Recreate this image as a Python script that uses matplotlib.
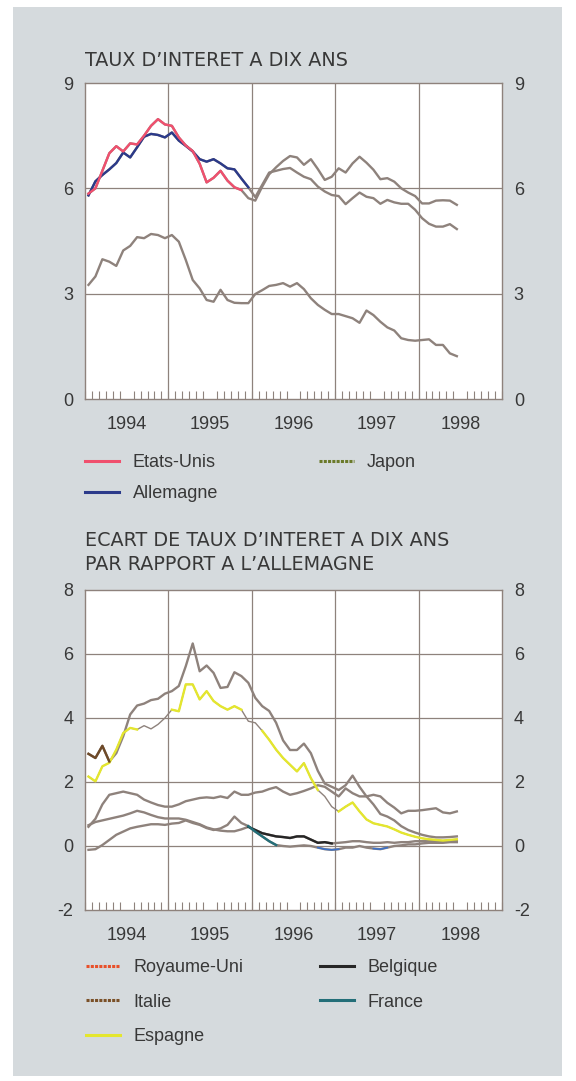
import numpy as np
import matplotlib
matplotlib.use("Agg")
import matplotlib.pyplot as plt
from matplotlib.lines import Line2D
from matplotlib.patches import Rectangle

# monthly observations, Jan 1994 .. Jun 1998
n_months = 54
years = [1994, 1995, 1996, 1997, 1998]

# --- taux d'interet a dix ans (%)
etats_unis = [5.85, 6.0, 6.5, 7.0, 7.2, 7.05, 7.28, 7.25, 7.5, 7.78, 7.97, 7.82,
              7.78, 7.45, 7.22, 7.06, 6.7, 6.17, 6.3, 6.5, 6.22, 6.03, 5.95, 5.72,
              5.65, 6.05, 6.4, 6.6, 6.78, 6.92, 6.88, 6.67, 6.83, 6.55, 6.24, 6.33,
              6.57, 6.45, 6.71, 6.9, 6.73, 6.53, 6.26, 6.29, 6.19, 6.0, 5.88, 5.78,
              5.57, 5.57, 5.65, 5.66, 5.65, 5.53]
allemagne = [5.8, 6.2, 6.38, 6.54, 6.72, 7.02, 6.88, 7.17, 7.47, 7.55, 7.52, 7.45,
             7.59, 7.36, 7.21, 7.05, 6.83, 6.76, 6.83, 6.71, 6.57, 6.54, 6.28, 6.03,
             5.75, 6.1, 6.45, 6.5, 6.55, 6.58, 6.45, 6.33, 6.26, 6.05, 5.91, 5.81,
             5.78, 5.55, 5.72, 5.88, 5.76, 5.72, 5.56, 5.67, 5.6, 5.56, 5.56, 5.39,
             5.15, 4.99, 4.91, 4.91, 4.98, 4.84]
japon = [3.25, 3.49, 3.98, 3.91, 3.79, 4.23, 4.36, 4.61, 4.58, 4.70, 4.67, 4.58,
         4.67, 4.48, 3.96, 3.39, 3.15, 2.82, 2.77, 3.11, 2.82, 2.74, 2.73, 2.73,
         2.99, 3.1, 3.22, 3.25, 3.3, 3.2, 3.3, 3.13, 2.87, 2.68, 2.54, 2.42,
         2.42, 2.36, 2.3, 2.17, 2.52, 2.39, 2.2, 2.04, 1.95, 1.73, 1.68, 1.66,
         1.68, 1.7, 1.54, 1.54, 1.3, 1.22]

# --- ecart par rapport a l'Allemagne (points)
royaume_uni = [0.6, 0.85, 1.3, 1.6, 1.65, 1.7, 1.65, 1.6, 1.45, 1.36, 1.28, 1.23,
               1.23, 1.3, 1.4, 1.45, 1.5, 1.52, 1.5, 1.55, 1.5, 1.7, 1.6, 1.6,
               1.67, 1.7, 1.78, 1.84, 1.7, 1.6, 1.65, 1.72, 1.8, 1.9, 1.85, 1.7,
               1.55, 1.8, 1.65, 1.55, 1.55, 1.6, 1.55, 1.35, 1.2, 1.02, 1.1, 1.1,
               1.12, 1.15, 1.18, 1.05, 1.02, 1.08]
italie = [2.88, 2.75, 3.13, 2.64, 2.9, 3.43, 4.11, 4.39, 4.45, 4.56, 4.6, 4.76,
          4.84, 5.0, 5.62, 6.33, 5.46, 5.64, 5.41, 4.94, 4.97, 5.43, 5.31, 5.1,
          4.63, 4.37, 4.22, 3.85, 3.3, 3.0, 3.0, 3.2, 2.9, 2.35, 1.95, 1.85,
          1.75, 1.9, 2.2, 1.85, 1.55, 1.3, 1.0, 0.92, 0.8, 0.62, 0.5, 0.42,
          0.35, 0.3, 0.27, 0.27, 0.28, 0.3]
espagne = [2.17, 2.02, 2.49, 2.6, 3.01, 3.53, 3.69, 3.64, 3.76, 3.66, 3.8, 4.0,
           4.26, 4.21, 5.05, 5.05, 4.58, 4.84, 4.53, 4.37, 4.26, 4.37, 4.26, 3.9,
           3.85, 3.6, 3.32, 3.01, 2.75, 2.54, 2.33, 2.59, 2.12, 1.75, 1.55, 1.23,
           1.08, 1.23, 1.36, 1.08, 0.83, 0.71, 0.66, 0.61, 0.52, 0.42, 0.35, 0.29,
           0.24, 0.21, 0.19, 0.17, 0.19, 0.21]
belgique = [0.65, 0.75, 0.8, 0.85, 0.9, 0.95, 1.02, 1.1, 1.05, 0.97, 0.9, 0.86,
            0.86, 0.86, 0.82, 0.75, 0.68, 0.58, 0.52, 0.48, 0.46, 0.46, 0.52, 0.6,
            0.5, 0.4, 0.35, 0.3, 0.28, 0.25, 0.3, 0.3, 0.2, 0.1, 0.12, 0.08,
            0.1, 0.12, 0.15, 0.15, 0.12, 0.1, 0.1, 0.12, 0.1, 0.12, 0.12, 0.15,
            0.15, 0.15, 0.15, 0.15, 0.15, 0.15]
france = [-0.12, -0.1, 0.03, 0.19, 0.35, 0.45, 0.55, 0.6, 0.64, 0.68, 0.68, 0.66,
          0.7, 0.72, 0.8, 0.72, 0.66, 0.56, 0.5, 0.55, 0.66, 0.92, 0.72, 0.62,
          0.45, 0.3, 0.15, 0.03, 0.0, -0.02, 0.0, 0.02, 0.0, -0.05, -0.1, -0.12,
          -0.1, -0.05, -0.05, 0.0, -0.05, -0.08, -0.1, -0.05, 0.0, 0.02, 0.05, 0.05,
          0.08, 0.1, 0.1, 0.1, 0.12, 0.12]

GREY = "#8e827c"
TEXT = "#383838"
PANEL = "#d5dadd"

plt.rcParams["font.family"] = ["Liberation Sans", "DejaVu Sans"]
plt.rcParams["font.size"] = 13

x = 1994 + (np.arange(n_months) + 0.5) / 12.0


def draw_series(ax, values, color, spans, lw=1.7, grey_lw=None):
    # whole series in the faded print grey, colour only where the original kept it
    ax.plot(x, values, color=GREY, lw=grey_lw or lw, solid_joinstyle="round", zorder=3)
    for a, b in spans:
        ax.plot(x[a:b + 1], values[a:b + 1], color=color, lw=lw,
                solid_joinstyle="round", zorder=4)


def style_axes(ax, ylim, yticks):
    ax.set_xlim(1994, 1999)
    ax.set_ylim(*ylim)
    ax.set_facecolor("white")
    for s in ax.spines.values():
        s.set_color(GREY)
        s.set_linewidth(1.0)
    ax.set_yticks(yticks)
    ax.set_yticklabels([str(t) for t in yticks])
    ax.tick_params(axis="y", length=0, pad=8.5, labelcolor=TEXT,
                   labelleft=True, labelright=True, labelsize=13)
    ax.set_xticks([y + 0.5 for y in years])
    ax.set_xticklabels([str(y) for y in years])
    ax.set_xticks(np.arange(1994, 1999.001, 1 / 12.0), minor=True)
    ax.tick_params(axis="x", which="major", length=0, pad=12, labelcolor=TEXT,
                   labelsize=13)
    ax.tick_params(axis="x", which="minor", direction="in", length=5.5,
                   color=GREY, width=0.8, top=False)
    for t in yticks[1:-1]:
        ax.axhline(t, color=GREY, lw=0.9, zorder=1)
    for y in years[1:]:
        ax.axvline(y, color=GREY, lw=0.9, zorder=1)


fig = plt.figure(figsize=(5.76, 10.81), dpi=100)
fig.patch.set_facecolor("white")
fig.add_artist(Rectangle((13 / 576, 1 - 1076 / 1081), 549 / 576, 1069 / 1081,
                         transform=fig.transFigure, facecolor=PANEL,
                         edgecolor="none", zorder=0))

# ---------------- top chart
ax1 = fig.add_axes([85 / 576, 1 - 399 / 1081, 417 / 576, 316 / 1081])
style_axes(ax1, (0, 9), [0, 3, 6, 9])
draw_series(ax1, np.array(japon), GREY, [])
draw_series(ax1, np.array(allemagne), "#2b3a8a", [(0, 23)])
draw_series(ax1, np.array(etats_unis), "#f0506e", [(0, 22)])

fig.text(85 / 576, 1 - 61 / 1081, "TAUX D’INTERET A DIX ANS", color=TEXT,
         fontsize=13.8, va="center", ha="left", family="DejaVu Sans")

h1 = [Line2D([], [], color="#f0506e", lw=2.2),
      Line2D([], [], color="#2b3a8a", lw=2.2),
      Line2D([], [], color="#6b7a2a", lw=2.2, ls=(0, (1, 0.4)))]
fig.legend(h1, ["Etats-Unis", "Allemagne", "Japon"], ncol=2, frameon=False,
           loc="upper left", bbox_to_anchor=(85 / 576, 1 - 454 / 1081),
           borderpad=0, borderaxespad=0, handlelength=1.9, handletextpad=0.75,
           columnspacing=5.6, labelspacing=0.78, fontsize=13, labelcolor=TEXT)

# ---------------- bottom chart
ax2 = fig.add_axes([85 / 576, 1 - 910 / 1081, 417 / 576, 320 / 1081])
style_axes(ax2, (-2, 8), [-2, 0, 2, 4, 6, 8])
draw_series(ax2, np.array(royaume_uni), GREY, [])
draw_series(ax2, np.array(belgique), "#262626", [(23, 35)])
draw_series(ax2, np.array(france), "#236e78", [(23, 27)])
ax2.plot(x[33:37], np.array(france)[33:37], color="#3d72c8", lw=1.2, zorder=4)
ax2.plot(x[41:44], np.array(france)[41:44], color="#3d72c8", lw=1.2, zorder=4)
draw_series(ax2, np.array(espagne), "#e4e62e", [(0, 7), (12, 22), (25, 33), (36, 53)],
            grey_lw=1.0)
draw_series(ax2, np.array(italie), "#6e4a28", [(0, 3)])

fig.text(85 / 576, 1 - 541 / 1081, "ECART DE TAUX D’INTERET A DIX ANS",
         color=TEXT, fontsize=13.8, va="center", ha="left", family="DejaVu Sans")
fig.text(85 / 576, 1 - 565 / 1081, "PAR RAPPORT A L’ALLEMAGNE",
         color=TEXT, fontsize=13.8, va="center", ha="left", family="DejaVu Sans")

h2 = [Line2D([], [], color="#e8502a", lw=2.2, ls=(0, (1, 0.4))),
      Line2D([], [], color="#7a5028", lw=2.2, ls=(0, (1, 0.4))),
      Line2D([], [], color="#e4e62e", lw=2.2),
      Line2D([], [], color="#262626", lw=2.2),
      Line2D([], [], color="#236e78", lw=2.2)]
fig.legend(h2, ["Royaume-Uni", "Italie", "Espagne", "Belgique", "France"],
           ncol=2, frameon=False, loc="upper left",
           bbox_to_anchor=(86 / 576, 1 - 959 / 1081),
           borderpad=0, borderaxespad=0, handlelength=1.9, handletextpad=0.75,
           columnspacing=4.2, labelspacing=0.98, fontsize=13, labelcolor=TEXT)

fig.savefig("out.png", dpi=100, facecolor=fig.get_facecolor())
